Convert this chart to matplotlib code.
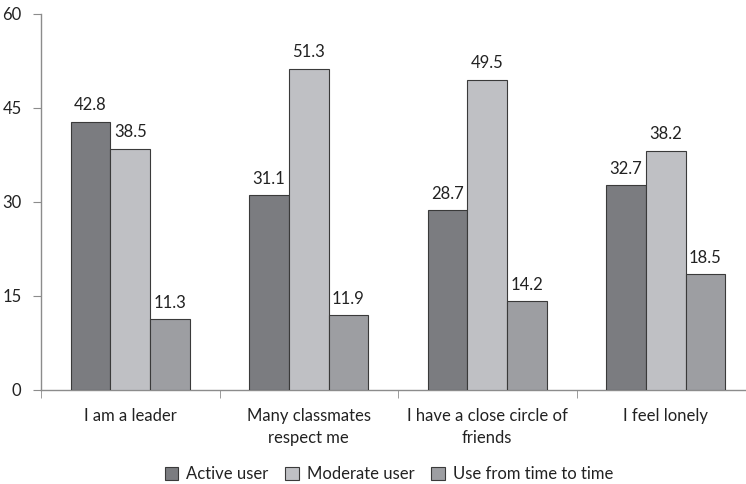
import matplotlib
matplotlib.use("Agg")
import matplotlib.pyplot as plt
import numpy as np

categories = ["I am a leader", "Many classmates\nrespect me", "I have a close circle of\nfriends", "I feel lonely"]
series_names = ["Active user", "Moderate user", "Use from time to time"]
active = [42.8, 31.1, 28.7, 32.7]
moderate = [38.5, 51.3, 49.5, 38.2]
occasional = [11.3, 11.9, 14.2, 18.5]
colors = ["#7b7c80", "#bfc0c4", "#9d9ea2"]
yticks = [0, 15, 30, 45, 60]

plt.rcParams['font.family'] = ['Lato', 'DejaVu Sans']
fig = plt.figure(figsize=(7.46, 4.84), dpi=100)
W, H = 746, 484
ax = fig.add_axes([41 / W, (H - 390) / H, 714 / W, 376 / H])

x = np.arange(len(categories))
bw = 0.222
for i, (vals, name, c) in enumerate(zip([active, moderate, occasional], series_names, colors)):
    pos = x + (i - 1) * bw
    ax.bar(pos, vals, width=bw, color=c, edgecolor="#3a3a3a", linewidth=0.8, label=name, zorder=3)
    for p, v in zip(pos, vals):
        ax.annotate(f"{v:.1f}", (p, v), xytext=(0, 6), textcoords="offset points",
                    ha="center", va="bottom", fontsize=12, color="#222222")

ax.set_xlim(-0.5, 3.5)
ax.set_ylim(0, 60)
ax.set_yticks(yticks)
ax.set_yticklabels([str(t) for t in yticks], fontsize=12, color="#222222")
ax.set_xticks(x)
ax.set_xticklabels(categories, fontsize=12, color="#222222", linespacing=1.45)
ax.set_xticks(np.arange(-0.5, 4.0, 1.0), minor=True)
ax.tick_params(axis="x", which="major", length=0, pad=13)
ax.tick_params(axis="x", which="minor", length=6, color="#8c8c8c", direction="out")
ax.tick_params(axis="y", length=6, color="#8c8c8c", direction="out", pad=8)
for s in ["top", "right"]:
    ax.spines[s].set_visible(False)
for s in ["left", "bottom"]:
    ax.spines[s].set_color("#8c8c8c")
    ax.spines[s].set_linewidth(1.0)

fig.legend(loc="center", bbox_to_anchor=(389 / W, (H - 474) / H), ncol=3, frameon=False,
           fontsize=12, handlelength=0.8, handleheight=0.8, handletextpad=0.5, columnspacing=1.0,
           labelcolor="#222222")

fig.savefig("out.png", dpi=100)
